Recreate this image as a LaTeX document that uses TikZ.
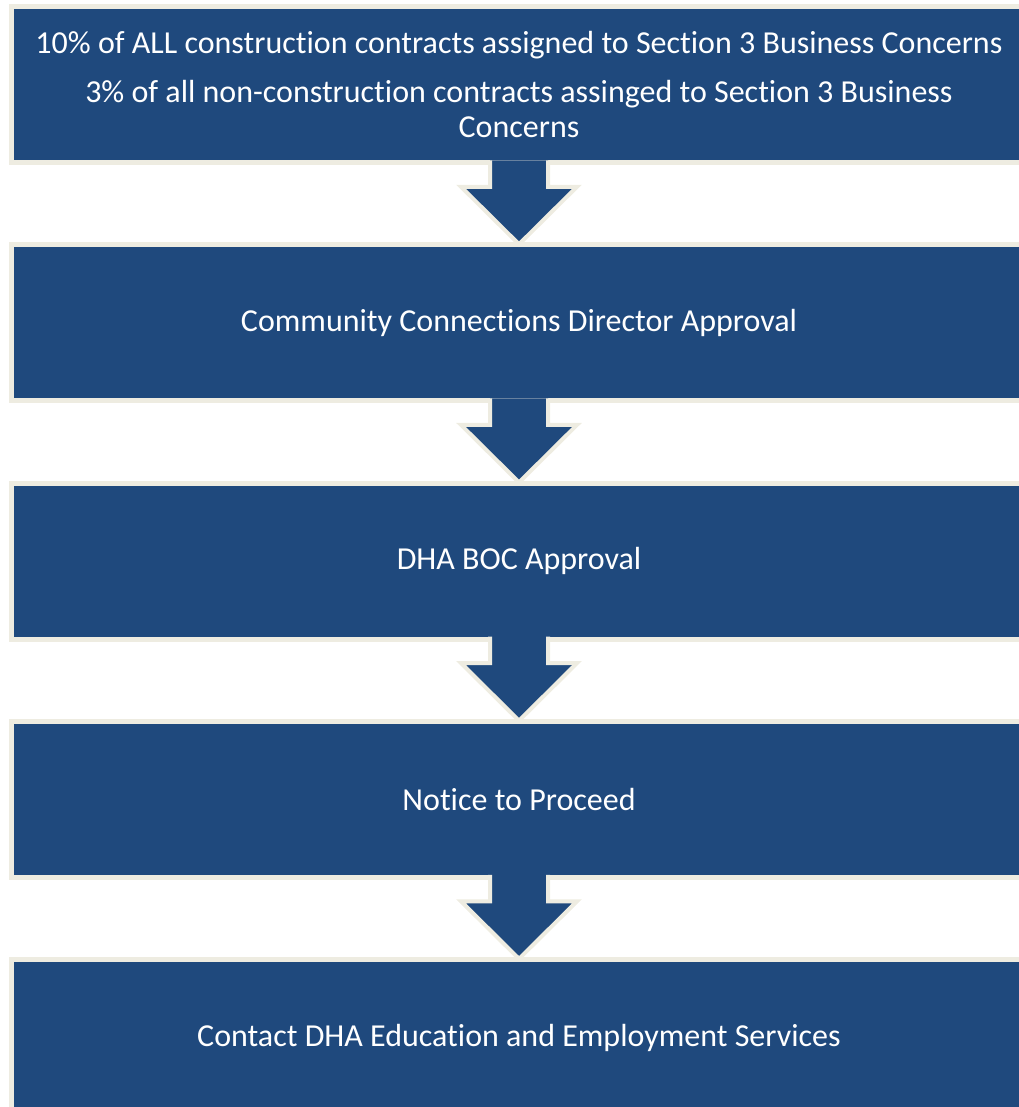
\documentclass[tikz,border=0pt]{standalone}
\usepackage{fontspec}
\setmainfont{Carlito}[Ligatures=NoCommon]
\usetikzlibrary{calc}
\definecolor{boxblue}{RGB}{31,73,125}
\definecolor{boxrim}{RGB}{238,236,225}
\begin{document}
\begin{tikzpicture}[x=0.75pt,y=-0.75pt,
  stepbox/.style={draw=boxrim, fill=boxblue, line width=3.75pt, outer sep=0pt,
    minimum width=1015*0.75pt, minimum height=156*0.75pt, inner sep=0pt,
    text=white, align=center, font=\fontsize{24}{26.25}\selectfont},
  flowarrow/.style={fill=boxblue, draw=boxrim, line width=3pt, line join=miter}]
\useasboundingbox (0,0) rectangle (1018,1107);

% process steps
\node[stepbox] (b1) at (519,84.75)
  {10\% of ALL construction contracts assigned to Section 3 Business Concerns\\[10.5pt]
   3\% of all non-construction contracts assinged to Section 3 Business\\Concerns};
\node[stepbox] (b2) at (519,322.9) {Community Connections Director Approval};
\node[stepbox] (b3) at (519,561.1) {DHA BOC Approval};
\node[stepbox] (b4) at (519,799.3) {Notice to Proceed};
\node[stepbox] (b5) at (519,1037.5) {Contact DHA Education and Employment Services};

% block arrows between consecutive steps (open path: no rim across the top)
\foreach \a/\b in {b1/b2, b2/b3, b3/b4, b4/b5}{
  \filldraw[flowarrow] ($(\a.south)+(-29,-2.5)$) -- ++(0,26.5) -- ++(-29,0)
    -- ++(58,57.5) -- ++(58,-57.5) -- ++(-29,0) -- ++(0,-26.5);
}
\end{tikzpicture}
\end{document}
